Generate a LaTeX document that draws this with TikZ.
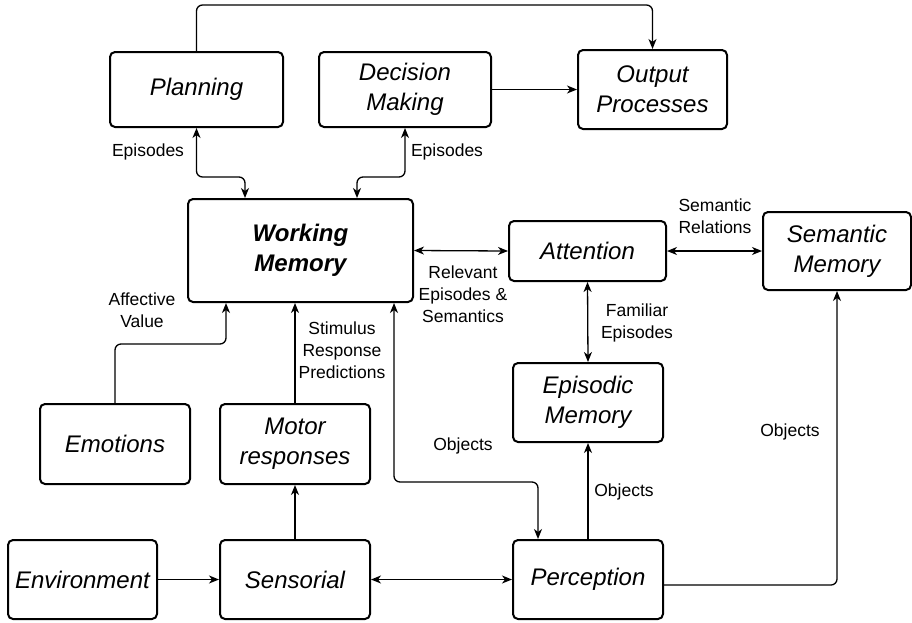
\documentclass[tikz,border=0pt]{standalone}
\usepackage{fontspec}
\setmainfont{Liberation Sans}
\usetikzlibrary{arrows.meta}
\begin{document}
\begin{tikzpicture}[x=1pt, y=-1pt,
    block/.style={draw, line width=2pt, rounded corners=5pt, align=center,
      font=\fontsize{24}{30}\selectfont\itshape, inner sep=0pt},
    link/.style={line width=1.3pt, rounded corners=6pt},
    lbl/.style={align=center, font=\fontsize{17.5}{22}\selectfont, inner sep=0pt},
    >={Stealth[length=10pt, width=8pt, inset=3pt]}]
  \useasboundingbox (0,0) rectangle (912,622);
  % boxes
  \node[block, minimum width=173pt, minimum height=75pt] (plan) at (196.5,89.5) {Planning};
  \node[block, minimum width=172pt, minimum height=75pt] (dec) at (405,89.5) {Decision\\Making};
  \node[block, minimum width=149pt, minimum height=79pt] (out) at (652.5,89.5) {Output\\Processes};
  \node[block, minimum width=225pt, minimum height=103pt, font=\fontsize{24}{30}\selectfont\bfseries\itshape] (wm) at (300.5,250.5) {Working\\Memory};
  \node[block, minimum width=157pt, minimum height=60pt] (att) at (587.5,251) {Attention};
  \node[block, minimum width=148pt, minimum height=78pt] (sem) at (837,251) {Semantic\\Memory};
  \node[block, minimum width=150pt, minimum height=79pt] (epi) at (588,402.5) {Episodic\\Memory};
  \node[block, minimum width=150pt, minimum height=80pt] (emo) at (115,444) {Emotions};
  \node[block, minimum width=150pt, minimum height=80pt] (mot) at (295,444) {Motor\\responses};
  \node[block, minimum width=149pt, minimum height=79pt] (env) at (82.5,579.5) {Environment};
  \node[block, minimum width=150pt, minimum height=79pt] (sen) at (295,579.5) {Sensorial};
  \node[block, minimum width=150pt, minimum height=79pt] (per) at (588,579.5) {Perception};
  % connectors
  \draw[link,->] (plan.north) |- ([yshift=44pt]out.north) -- (out.north);
  \draw[link,->] (dec.east) -- (out.west);
  \draw[link,<->] (plan.south) |- ([xshift=-55.5pt,yshift=21pt]wm.north) -- ([xshift=-55.5pt]wm.north);
  \draw[link,<->] (dec.south) |- ([xshift=56.5pt,yshift=21pt]wm.north) -- ([xshift=56.5pt]wm.north);
  \draw[link,<->] (wm.east) -- (att.west);
  \draw[link,<->] (att.east) -- (sem.west);
  \draw[link,<->] (att.south) -- (epi.north);
  \draw[link,->] (emo.north) |- ([xshift=-74.5pt,yshift=-41pt]wm.south) -- ([xshift=-74.5pt]wm.south);
  \draw[link,->] (mot.north) -- (mot.north |- wm.south);
  \draw[link,<->] ([xshift=93.5pt]wm.south) |- ([xshift=-50pt,yshift=57pt]per.north) -- ([xshift=-50pt]per.north);
  \draw[link,->] (per.north) -- (epi.south);
  \draw[link,->] ([yshift=-5.5pt]per.east) -| (sem.south);
  \draw[link,->] (env.east) -- (sen.west);
  \draw[link,->] (sen.north) -- (mot.south);
  \draw[link,<->] (sen.east) -- (per.west);
  % labels
  \node[lbl] (epis1) at (148,152) {Episodes};
  \node[lbl] (epis2) at (447,152) {Episodes};
  \node[lbl] (relev) at (463,294) {Relevant\\Episodes \&\\Semantics};
  \node[lbl] (semrel) at (715,216) {Semantic\\Relations};
  \node[lbl] (famil) at (637,323) {Familiar\\Episodes};
  \node[lbl] (affect) at (142,310) {Affective\\Value};
  \node[lbl] (stim) at (342,350) {Stimulus\\Response\\Predictions};
  \node[lbl] (obj1) at (463,446) {Objects};
  \node[lbl] (obj2) at (624,492) {Objects};
  \node[lbl] (obj3) at (790,432) {Objects};
\end{tikzpicture}
\end{document}
